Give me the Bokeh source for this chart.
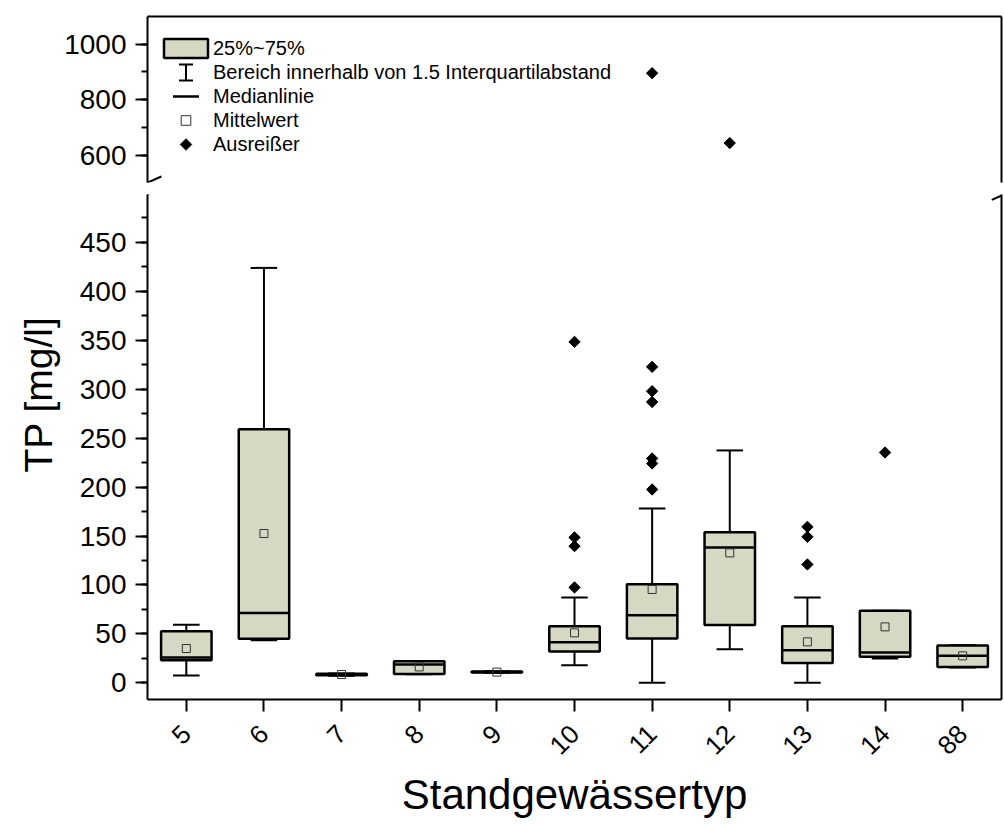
import numpy as np
from bokeh.plotting import figure
from bokeh.models import (FactorRange, Range1d, ColumnDataSource, LinearAxis, FixedTicker,
                          SingleIntervalTicker, Legend, LegendItem, Arrow, Title,
                          Whisker, TeeHead, PolyAnnotation)
from bokeh.layouts import column
from bokeh.transform import dodge
from bokeh.embed import file_html
from bokeh.resources import INLINE

# ---------------- data ----------------
categories = ["5", "6", "7", "8", "9", "10", "11", "12", "13", "14", "88"]
q1 = [23.0, 45.0, 7.8, 9.0, 10.5, 32.0, 45.3, 59.0, 20.4, 26.6, 16.3]
median = [26.0, 71.5, 8.4, 18.8, 11.0, 41.6, 69.2, 138.3, 33.4, 31.0, 27.6]
q3 = [52.8, 259.2, 9.2, 22.2, 11.5, 57.9, 100.8, 154.0, 57.9, 73.6, 38.2]
mean = [35.1, 152.6, 8.5, 16.3, 11.0, 51.1, 95.4, 132.8, 41.9, 57.2, 27.6]
whisker_low = [7.6, 43.6, 7.3, 8.8, 10.3, 18.1, 0.0, 34.4, 0.0, 25.0, 15.8]
whisker_high = [59.3, 424.0, 9.6, 22.4, 11.8, 87.3, 178.2, 237.5, 87.3, 73.6, 38.5]

outlier_cat = ["10", "10", "10", "10",
               "11", "11", "11", "11", "11", "11", "11",
               "12",
               "13", "13", "13",
               "14"]
outlier_val = [97.5, 139.7, 148.6, 348.4,
               197.6, 224.2, 229.3, 287.0, 298.0, 322.9, 895.5,
               644.0,
               121.0, 149.2, 159.4,
               235.4]

y_title = "TP [mg/l]"
x_title = "Standgewässertyp"
legend_labels = ["25%~75%", "Bereich innerhalb von 1.5 Interquartilabstand",
                 "Medianlinie", "Mittelwert", "Ausreißer"]

# ---------------- style / layout ----------------
FONT = "Liberation Sans"
BOX_FILL = "#d6d8c4"
W, LEFT, RIGHT = 1004, 144, 3
FRAME_W = W - LEFT - RIGHT
UP_TOP, UP_FRAME_H, GAP = 16, 166, 6
LO_FRAME_H, LO_BOTTOM = 505, 126

box_src = ColumnDataSource(dict(cat=categories, q1=q1, med=median, q3=q3, mean=mean,
                                lo=whisker_low, hi=whisker_high))
out_src = ColumnDataSource(dict(cat=outlier_cat, val=outlier_val))

x_range = FactorRange(*categories, range_padding=0)


def draw(p, boxes_visible=True):
    kw = dict(source=box_src, line_color="black", line_width=2, visible=boxes_visible)
    p.segment(x0="cat", y0="q3", x1="cat", y1="hi", **kw)
    p.segment(x0="cat", y0="q1", x1="cat", y1="lo", **kw)
    p.segment(x0=dodge("cat", -0.171, range=x_range), y0="hi",
              x1=dodge("cat", 0.171, range=x_range), y1="hi", **kw)
    p.segment(x0=dodge("cat", -0.171, range=x_range), y0="lo",
              x1=dodge("cat", 0.171, range=x_range), y1="lo", **kw)
    box = p.vbar(x="cat", bottom="q1", top="q3", width=0.65, source=box_src,
                 fill_color=BOX_FILL, line_color="black", line_width=2.5,
                 visible=boxes_visible)
    med = p.segment(x0=dodge("cat", -0.325, range=x_range), y0="med",
                    x1=dodge("cat", 0.325, range=x_range), y1="med",
                    source=box_src, line_color="black", line_width=2.5,
                    visible=boxes_visible)
    mn = p.scatter(x="cat", y="mean", source=box_src, marker="square", size=8,
                   fill_color=None, line_color="#333333", line_width=1,
                   visible=boxes_visible)
    out = p.scatter(x="cat", y="val", source=out_src, marker="square", angle=np.pi / 4,
                    size=8, fill_color="black", line_color="black")
    return box, med, mn, out


def style_y(ax, ticker):
    ax.ticker = ticker
    ax.axis_line_width = 2
    ax.major_tick_line_width = 2
    ax.minor_tick_line_width = 2
    ax.major_tick_out = 12
    ax.major_tick_in = 0
    ax.minor_tick_out = 6
    ax.minor_tick_in = 0
    ax.major_label_text_font = FONT
    ax.major_label_text_font_size = "28px"
    ax.major_label_text_color = "black"
    ax.major_label_standoff = 9


def bare_axis():
    return LinearAxis(ticker=FixedTicker(ticks=[]), axis_line_width=2,
                      major_tick_out=0, major_tick_in=0, minor_tick_out=0, minor_tick_in=0,
                      major_label_standoff=0, major_tick_line_color=None,
                      minor_tick_line_color=None)


def screen_line(p, x0, y0, x1, y1, width=2):
    p.add_layout(Arrow(end=None, x_start=x0, y_start=y0, x_end=x1, y_end=y1,
                       start_units="screen", end_units="screen",
                       line_color="black", line_width=width))


# ---------------- upper panel (500 - 1100) ----------------
p_up = figure(width=W, height=UP_TOP + UP_FRAME_H + GAP, x_range=x_range,
              y_range=Range1d(502, 1099.5), output_backend="svg", toolbar_location=None,
              x_axis_location=None, min_border_left=LEFT, min_border_right=RIGHT,
              min_border_top=UP_TOP, min_border_bottom=GAP)
p_up.outline_line_color = None
p_up.xgrid.visible = False
p_up.ygrid.visible = False
style_y(p_up.yaxis[0], SingleIntervalTicker(interval=200, num_minor_ticks=2))
p_up.add_layout(bare_axis(), "above")
p_up.add_layout(bare_axis(), "right")
box_u, med_u, mn_u, out_u = draw(p_up, boxes_visible=False)
# legend-only renderer (nothing visible in the plot area)
blank_u = p_up.scatter(x=[], y=[], marker="dash", size=1, line_color=None)

ROW = 24
LEG_X, LEG_TOP = 11, 20
legend = Legend(items=[LegendItem(label=legend_labels[0], renderers=[box_u]),
                       LegendItem(label=legend_labels[1], renderers=[blank_u]),
                       LegendItem(label=legend_labels[2], renderers=[blank_u]),
                       LegendItem(label=legend_labels[3], renderers=[mn_u]),
                       LegendItem(label=legend_labels[4], renderers=[blank_u])],
                location=(LEG_X, UP_FRAME_H - LEG_TOP - 5 * ROW), glyph_width=55,
                glyph_height=ROW, label_standoff=0, padding=0, margin=0, spacing=0,
                border_line_color=None, background_fill_alpha=0, inactive_fill_alpha=0,
                label_text_font=FONT, label_text_font_size="20px", label_text_color="black")
p_up.add_layout(legend)

# legend symbols that Bokeh's legend cannot draw itself
gx = LEG_X + 27.5
ib_y = UP_FRAME_H - LEG_TOP - 1.5 * ROW
ib_src = ColumnDataSource(dict(base=[gx], lower=[ib_y - 8], upper=[ib_y + 8]))
p_up.add_layout(Whisker(source=ib_src, base="base", lower="lower", upper="upper",
                        dimension="height", base_units="screen", lower_units="screen",
                        upper_units="screen", line_color="black", line_width=2,
                        upper_head=TeeHead(size=14, line_width=2, line_color="black"),
                        lower_head=TeeHead(size=14, line_width=2, line_color="black")))
md_y = UP_FRAME_H - LEG_TOP - 2.5 * ROW
screen_line(p_up, gx - 13, md_y, gx + 13, md_y, 2.5)
dm_y = UP_FRAME_H - LEG_TOP - 4.5 * ROW
p_up.add_layout(PolyAnnotation(xs=[gx - 6, gx, gx + 6, gx], ys=[dm_y, dm_y + 6, dm_y, dm_y - 6],
                               xs_units="screen", ys_units="screen", fill_color="black",
                               fill_alpha=1, line_color="black", line_width=1))

# break marks (upper half)
screen_line(p_up, -12.7, -5.7, 13.9, 6.0)
screen_line(p_up, FRAME_W - 12.7, -5.7, FRAME_W + 13.9, 6.0)

# ---------------- lower panel (-17 - 500) ----------------
p_lo = figure(width=W, height=GAP + LO_FRAME_H + LO_BOTTOM, x_range=x_range,
              y_range=Range1d(-17, 499), output_backend="svg", toolbar_location=None,
              min_border_left=LEFT, min_border_right=RIGHT, min_border_top=GAP,
              min_border_bottom=LO_BOTTOM)
p_lo.outline_line_color = None
p_lo.xgrid.visible = False
p_lo.ygrid.visible = False
style_y(p_lo.yaxis[0], SingleIntervalTicker(interval=50, num_minor_ticks=2))
p_lo.add_layout(bare_axis(), "right")
draw(p_lo)

xa = p_lo.xaxis[0]
xa.axis_line_width = 2
xa.major_tick_line_width = 2
xa.major_tick_out = 12
xa.major_tick_in = 0
xa.major_label_orientation = np.pi / 4
xa.major_label_text_font = FONT
xa.major_label_text_font_size = "26px"
xa.major_label_text_color = "black"
xa.major_label_standoff = 18
xa.axis_label = x_title
xa.axis_label_text_font = FONT
xa.axis_label_text_font_size = "42px"
xa.axis_label_text_font_style = "normal"
xa.axis_label_text_color = "black"
xa.axis_label_standoff = 5

p_lo.add_layout(Title(text=y_title, align="left", offset=227, vertical_align="middle",
                      text_font=FONT, text_font_size="39px", text_font_style="normal",
                      text_color="black", standoff=31), "left")

# break marks (lower half)
screen_line(p_lo, -12.7, LO_FRAME_H - 5.3, 13.9, LO_FRAME_H + 6.3)
screen_line(p_lo, FRAME_W - 12.7, LO_FRAME_H - 5.3, FRAME_W + 13.9, LO_FRAME_H + 6.3)

layout = column(p_up, p_lo, spacing=0)
open("out.html", "w").write(file_html(layout, INLINE))
